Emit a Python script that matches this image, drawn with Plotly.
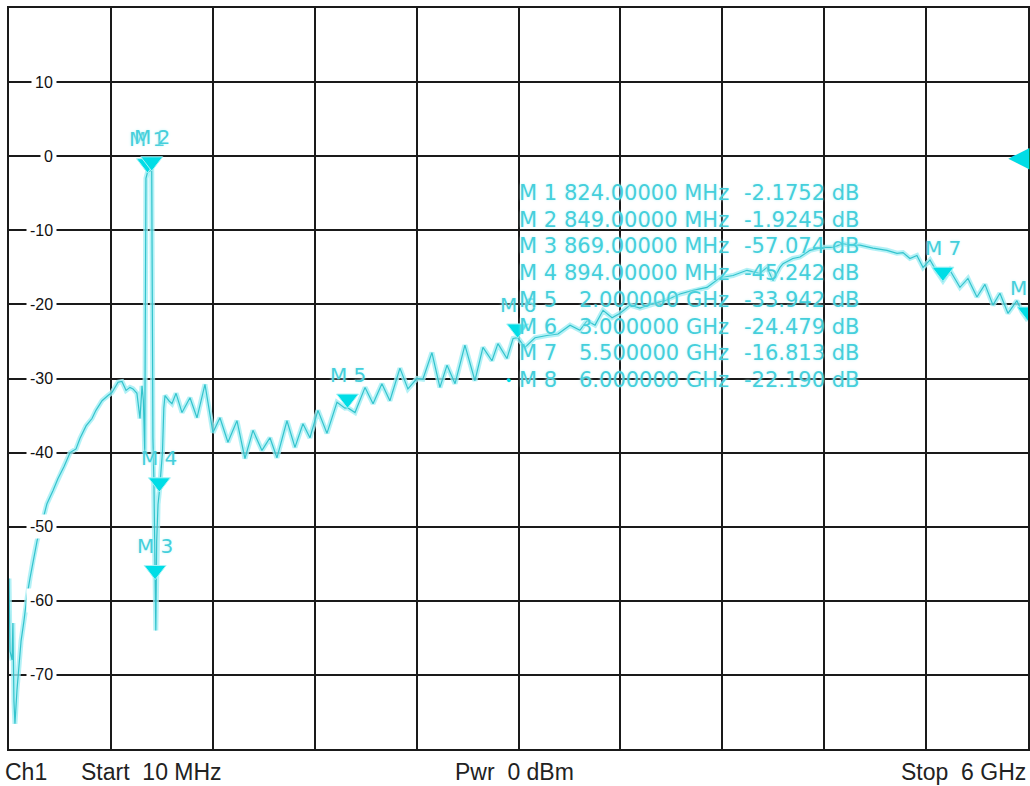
import plotly.graph_objects as go

# ---------------- data ----------------
freq_mhz = [
    10, 16, 28, 33, 39, 45, 57, 69, 81, 98,
    116, 133, 151, 175, 204, 233, 269, 298, 333, 369,
    404, 427, 463, 498, 521, 557, 592, 615, 651, 674,
    698, 721, 739, 762, 780, 792, 800, 808, 815, 824,
    836, 849, 856, 862, 869, 873, 878, 886, 894, 903,
    912, 920, 927, 950, 968, 992, 1027, 1074, 1115, 1162,
    1209, 1250, 1297, 1350, 1397, 1444, 1497, 1544, 1585, 1644,
    1691, 1738, 1779, 1826, 1879, 1938, 1985, 2000, 2044, 2103,
    2150, 2202, 2249, 2308, 2355, 2408, 2443, 2496, 2543, 2585,
    2632, 2690, 2749, 2796, 2849, 2884, 2937, 2973, 3000, 3043,
    3102, 3172, 3237, 3308, 3366, 3408, 3455, 3502, 3555, 3602,
    3661, 3719, 3795, 3866, 3954, 4031, 4113, 4189, 4266, 4348,
    4424, 4466, 4501, 4542, 4560, 4618, 4660, 4718, 4795, 4854,
    4912, 4953, 5012, 5089, 5171, 5230, 5265, 5306, 5347, 5383,
    5424, 5459, 5500, 5541, 5600, 5647, 5700, 5747, 5794, 5835,
    5882, 5935, 5964, 6000,
]
s21_db = [
    -57.0, -66.8, -68.0, -63.0, -73.5, -76.6, -72.0, -68.0, -65.4, -62.7,
    -59.3, -57.0, -54.6, -51.9, -49.5, -46.9, -45.1, -43.5, -41.9, -40.0,
    -39.5, -38.1, -36.4, -35.4, -34.3, -33.0, -32.3, -31.9, -30.5, -30.4,
    -31.6, -31.2, -31.4, -32.0, -35.4, -31.0, -33.0, -40.0, -3.0, -2.1752,
    -2.0, -1.9245, -38.0, -44.0, -57.074, -64.0, -52.0, -47.0, -45.242, -43.0,
    -40.0, -34.0, -32.3, -33.0, -33.4, -32.0, -34.6, -32.6, -35.3, -30.8,
    -37.3, -35.3, -38.6, -35.7, -40.8, -37.0, -39.7, -38.0, -40.7, -35.7,
    -39.3, -36.1, -38.0, -34.3, -37.4, -33.2, -34.0, -33.942, -34.6, -31.2,
    -33.4, -30.7, -33.0, -28.6, -31.4, -30.0, -30.1, -26.5, -31.2, -28.2,
    -30.7, -25.5, -30.3, -25.8, -27.6, -25.3, -27.3, -24.6, -24.479, -25.8,
    -24.5, -24.2, -24.0, -22.8, -23.5, -22.2, -22.8, -20.8, -21.8, -21.2,
    -20.1, -20.5, -19.9, -19.5, -18.6, -18.1, -17.7, -16.4, -16.1, -15.4,
    -15.8, -15.0, -16.8, -15.0, -14.5, -13.8, -13.6, -12.7, -12.3, -12.3,
    -11.8, -12.0, -12.0, -12.4, -12.7, -13.1, -13.0, -13.8, -13.4, -15.0,
    -14.0, -15.4, -16.813, -15.4, -17.7, -16.5, -19.0, -17.3, -20.1, -18.5,
    -21.2, -19.5, -21.0, -22.19,
]

marker_names = ["M 1", "M 2", "M 3", "M 4", "M 5", "M 6", "M 7", "M 8"]
marker_freq_mhz = [824, 849, 869, 894, 2000, 3000, 5500, 6000]
marker_db = [-2.1752, -1.9245, -57.074, -45.242, -33.942, -24.479, -16.813, -22.190]
marker_freq_text = ["824.00000 MHz", "849.00000 MHz", "869.00000 MHz", "894.00000 MHz",
                    "2.000000 GHz", "3.000000 GHz", "5.500000 GHz", "6.000000 GHz"]
marker_val_text = ["-2.1752 dB", "-1.9245 dB", "-57.074 dB", "-45.242 dB",
                   "-33.942 dB", "-24.479 dB", "-16.813 dB", "-22.190 dB"]

ytick_vals = [10, 0, -10, -20, -30, -40, -50, -60, -70]
ref_level_db = 0
start_mhz, stop_mhz = 10, 6000
y_min, y_max = -80, 20

footer_left = ["Ch1", "Start  10 MHz"]
footer_center = "Pwr  0 dBm"
footer_right = "Stop  6 GHz"

# ---------------- styling ----------------
W, H = 1030, 786
ML, MR, MT, MB = 9, 2, 8, 37
PW = W - ML - MR
PH = H - MT - MB
TRACE = "#33c3cc"
HALO = "rgba(160,238,244,0.8)"
MARK = "#00dde6"
TXT = "#45cfdb"
FONT = "Liberation Sans, Arial, sans-serif"
WIDE = "DejaVu Sans, Verdana, sans-serif"
SHADOW = "0px 0px 3px #c6f6f8"


def px_to_paper(px):
    """page pixel x -> paper x"""
    return (px - ML) / PW


def py_to_paper(py):
    """page pixel y -> paper y"""
    return 1 - (py - MT) / PH


fig = go.Figure()

# halo + core trace
fig.add_trace(go.Scatter(x=freq_mhz, y=s21_db, mode="lines",
                         line=dict(color=HALO, width=5), hoverinfo="skip"))
fig.add_trace(go.Scatter(x=freq_mhz, y=s21_db, mode="lines",
                         line=dict(color=TRACE, width=1.2)))

# marker triangles (tip at the marker point -> lift centre a little)
lift_db = 1.2
fig.add_trace(go.Scatter(
    x=marker_freq_mhz, y=[v + lift_db for v in marker_db], mode="markers",
    marker=dict(symbol="triangle-down", size=19, color=MARK,
                line=dict(color="#a8f2f5", width=1))))

ann = []
# reference level arrow on the right edge
ann.append(dict(x=stop_mhz, y=ref_level_db, xref="x", yref="y", xanchor="right",
                yanchor="middle", text="◀", showarrow=False, xshift=4,
                font=dict(family=WIDE, size=28, color=MARK)))

# marker labels above the triangles
for name, f, v in zip(marker_names, marker_freq_mhz, marker_db):
    ann.append(dict(x=f, y=v, xref="x", yref="y", text=name, showarrow=False,
                    yshift=33, font=dict(family=WIDE, size=20, color=TXT, shadow=SHADOW)))

# marker table
row0_y, row_dy = 193, 26.7
for i, (name, ft, vt) in enumerate(zip(marker_names, marker_freq_text, marker_val_text)):
    yp = py_to_paper(row0_y + i * row_dy)
    common = dict(xref="paper", yref="paper", y=yp, yanchor="middle", showarrow=False,
                  font=dict(family=WIDE, size=21, color=TXT, shadow=SHADOW))
    ann.append(dict(x=px_to_paper(517), xanchor="left", text=name, **common))
    ann.append(dict(x=px_to_paper(731), xanchor="right", text=ft, **common))
    ann.append(dict(x=px_to_paper(861), xanchor="right", text=vt, **common))

# active-marker dot beside M 8
ann.append(dict(xref="paper", yref="paper", x=px_to_paper(508),
                y=py_to_paper(row0_y + 7 * row_dy),
                text="●", showarrow=False, font=dict(size=9, color=MARK)))

# y tick labels drawn inside the grid
for v in ytick_vals:
    ann.append(dict(x=px_to_paper(57), xref="paper", y=v, yref="y", xanchor="right",
                    text=str(v), showarrow=False, bgcolor="white", borderpad=3,
                    font=dict(family=FONT, size=16, color="#111111")))

# footer
foot_font = dict(family=FONT, size=23, color="#222222")
fy = py_to_paper(772)
for txt, xp, anchor in [(footer_left[0], 3, "left"), (footer_left[1], 79, "left"),
                        (footer_center, 453, "left"), (footer_right, 1028, "right")]:
    ann.append(dict(x=px_to_paper(xp), xref="paper", y=fy, yref="paper",
                    xanchor=anchor, yanchor="middle", text=txt, showarrow=False,
                    font=foot_font))

fig.update_layout(
    width=W, height=H, margin=dict(l=ML, r=MR, t=MT, b=MB, autoexpand=False),
    paper_bgcolor="white", plot_bgcolor="white", showlegend=False,
    annotations=ann,
    xaxis=dict(range=[start_mhz, stop_mhz], tick0=start_mhz, dtick=(stop_mhz - start_mhz) / 10,
               showticklabels=False, ticks="", showgrid=True, gridcolor="#1a1a1a", gridwidth=1.6,
               zeroline=False, showline=True, linecolor="#1a1a1a", linewidth=2, mirror=True),
    yaxis=dict(range=[y_min, y_max], dtick=10, showticklabels=False, ticks="",
               showgrid=True, gridcolor="#1a1a1a", gridwidth=1.6,
               zeroline=False, showline=True, linecolor="#1a1a1a", linewidth=2, mirror=True),
)

# remove the default page margin so the 1030x786 figure fills the window exactly
fig.write_html("out.html", config={"displayModeBar": False},
               post_script="document.body.style.margin='0';document.body.style.overflow='hidden';")
